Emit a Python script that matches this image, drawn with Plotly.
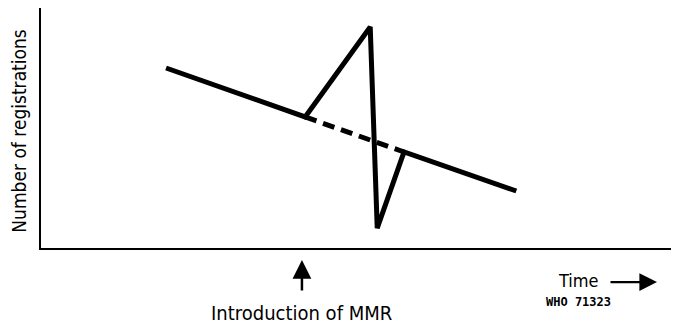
import plotly.graph_objects as go

# time (arbitrary units) and number of registrations (arbitrary units)
time_obs = [19.6, 41.4, 51.6, 52.7, 56.9, 74.5]
reg_obs = [75.0, 54.6, 92.1, 8.3, 40.0, 23.75]

# expected trend without MMR (dashed)
time_exp = [41.4, 56.9]
reg_exp = [54.6, 40.0]

mmr_time = 40.9

fig = go.Figure()

fig.add_trace(go.Scatter(x=time_exp, y=reg_exp, mode='lines',
                         line=dict(color='black', width=5, dash='12px,7px')))
fig.add_trace(go.Scatter(x=time_obs, y=reg_obs, mode='lines',
                         line=dict(color='black', width=5)))

fig.update_xaxes(range=[0, 100], showgrid=False, zeroline=False, showticklabels=False,
                 showline=True, linecolor='black', linewidth=2, ticks='')
fig.update_yaxes(range=[0, 100], showgrid=False, zeroline=False, showticklabels=False,
                 showline=True, linecolor='black', linewidth=2, ticks='')

# arrow for MMR introduction
fig.add_annotation(x=mmr_time, y=-0.05, xref='x', yref='paper', text='',
                   showarrow=True, ax=0, ay=32, arrowhead=2, arrowsize=1.5,
                   arrowwidth=2.5, arrowcolor='black')
fig.add_annotation(x=mmr_time, y=-0.27, xref='x', yref='paper',
                   xanchor='center', yanchor='middle',
                   text='Introduction of MMR', showarrow=False,
                   font=dict(family='DejaVu Sans Condensed', size=20, color='black'))

# time arrow
fig.add_annotation(x=0.9655, y=-0.142, xref='paper', yref='paper', text='',
                   showarrow=True, ax=-48, ay=0, arrowhead=2, arrowsize=1.6,
                   arrowwidth=2.2, arrowcolor='black')
fig.add_annotation(x=0.843, y=-0.135, xref='paper', yref='paper',
                   xanchor='center', yanchor='middle',
                   text='Time', showarrow=False,
                   font=dict(family='DejaVu Sans Condensed', size=18, color='black'))
fig.add_annotation(x=0.842, y=-0.225, xref='paper', yref='paper',
                   xanchor='center', yanchor='middle',
                   text='<b>WHO 71323</b>', showarrow=False,
                   font=dict(family='DejaVu Sans Mono', size=12, color='black'))

fig.add_annotation(x=-0.034, y=0.49, xref='paper', yref='paper',
                   xanchor='center', yanchor='middle',
                   text='Number of registrations', showarrow=False, textangle=-90,
                   font=dict(family='DejaVu Sans Condensed', size=19, color='black'))

# page body adds an 8px offset, so the figure is sized to fit the window
fig.update_layout(width=671, height=323, showlegend=False,
                  plot_bgcolor='white', paper_bgcolor='white',
                  margin=dict(l=33, r=0, t=0, b=83))

fig.write_html("out.html")
